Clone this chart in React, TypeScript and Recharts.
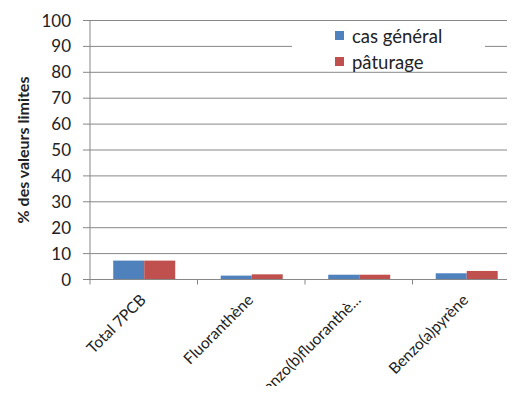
import React from "react";
import { BarChart, Bar, XAxis, YAxis, CartesianGrid, Legend } from "recharts";

const categories = ["Total 7PCB", "Fluoranthène", "Benzo(b)fluoranthè...", "Benzo(a)pyrène"];
const casGeneral = [7.3, 1.5, 1.85, 2.4];
const paturage = [7.3, 2.0, 1.85, 3.3];
const yTicks = [0, 10, 20, 30, 40, 50, 60, 70, 80, 90, 100];

const FONT = "Lato, 'Liberation Sans', sans-serif";
const GRID = "#878787";
const BLUE = "#4F81BD";
const RED = "#C0504D";

const data = categories.map((name, i) => ({
  name,
  cas: casGeneral[i],
  pat: paturage[i],
}));

const CategoryTick = (props: any) => {
  const { x, y, payload } = props;
  const half = payload?.offset ?? 0;
  const tx = x + 3;
  const ty = y + 21.5;
  return (
    <g>
      <line x1={x - half} y1={y} x2={x - half} y2={y + 5} stroke={GRID} strokeWidth={1} />
      <text
        x={tx}
        y={ty}
        textAnchor="end"
        transform={`rotate(-45, ${tx}, ${ty})`}
        fontFamily={FONT}
        fontSize={15.5}
        fill="#222"
      >
        {payload.value}
      </text>
    </g>
  );
};

// plot runs from y=12.5 to y=271.5 in chart coords
const YTitle = () => {
  const cx = 14;
  const cy = 142;
  return (
    <text
      x={cx}
      y={cy}
      textAnchor="middle"
      dominantBaseline="central"
      transform={`rotate(-90, ${cx}, ${cy})`}
      fontFamily={FONT}
      fontSize={16}
      fontWeight={700}
      fill="#222"
    >
      % des valeurs limites
    </text>
  );
};

const LegendBox = () => {
  const items = [
    { label: "cas général", color: BLUE },
    { label: "pâturage", color: RED },
  ];
  return (
    <div
      style={{
        background: "#fff",
        width: 193,
        height: 49,
        boxSizing: "border-box",
        paddingLeft: 43,
        paddingTop: 0.5,
        fontFamily: FONT,
        fontSize: 18.5,
        color: "#222",
      }}
    >
      {items.map((it) => (
        <div key={it.label} style={{ display: "flex", alignItems: "center", height: 26 }}>
          <span
            style={{ width: 9, height: 9, background: it.color, display: "inline-block", marginRight: 8 }}
          />
          <span style={{ lineHeight: "26px" }}>{it.label}</span>
        </div>
      ))}
    </div>
  );
};

export default function App() {
  return (
    <div style={{ width: 507, height: 386, marginBottom: -8, overflow: "hidden" }}>
      <BarChart
        width={530}
        height={378}
        data={data}
        margin={{ top: 12.5, right: 18, bottom: 0, left: 0 }}
        barCategoryGap="21.6%"
        barGap={0}
        style={{ overflow: "visible" }}
      >
        <CartesianGrid vertical={false} stroke={GRID} strokeWidth={1} />
        <XAxis
          dataKey="name"
          height={106.5}
          stroke={GRID}
          tickLine={false}
          tickSize={0}
          tickMargin={0}
          interval={0}
          tick={<CategoryTick />}
        />
        <YAxis
          width={82}
          domain={[0, 100]}
          ticks={yTicks}
          interval={0}
          stroke={GRID}
          tickSize={7}
          tickMargin={12}
          tick={{ fontFamily: FONT, fontSize: 17, fill: "#222" }}
          label={<YTitle />}
        />
        <Legend
          layout="vertical"
          align="center"
          verticalAlign="middle"
          wrapperStyle={{ left: 284, top: 14, width: 193 }}
          content={<LegendBox />}
        />
        <Bar dataKey="cas" name="cas général" fill={BLUE} isAnimationActive={false} />
        <Bar dataKey="pat" name="pâturage" fill={RED} isAnimationActive={false} />
      </BarChart>
    </div>
  );
}
